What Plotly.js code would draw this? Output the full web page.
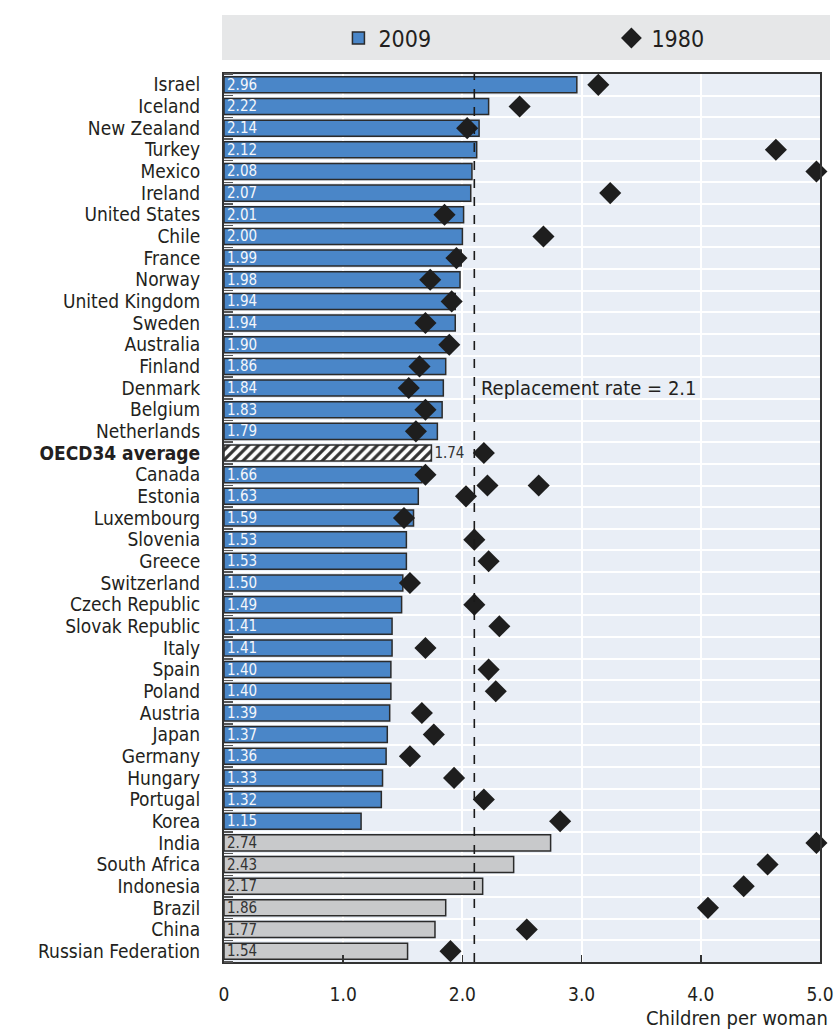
<!DOCTYPE html>
<html>
<head>
<meta charset="utf-8">
<script src="https://cdn.plot.ly/plotly-3.0.1.min.js"></script>
<style>
  html, body { margin: 0; padding: 0; background: #ffffff; }
  #chart { width: 835px; height: 1030px; }
</style>
</head>
<body>
<div id="chart"></div>
<script>
// ---- data ----
const oecdCountries = ["Israel","Iceland","New Zealand","Turkey","Mexico","Ireland","United States","Chile","France","Norway","United Kingdom","Sweden","Australia","Finland","Denmark","Belgium","Netherlands"];
const oecdCountries2 = ["Canada","Estonia","Luxembourg","Slovenia","Greece","Switzerland","Czech Republic","Slovak Republic","Italy","Spain","Poland","Austria","Japan","Germany","Hungary","Portugal","Korea"];
const averageLabel = "OECD34 average";
const partnerCountries = ["India","South Africa","Indonesia","Brazil","China","Russian Federation"];

const tfr2009_oecd1 = [2.96,2.22,2.14,2.12,2.08,2.07,2.01,2.00,1.99,1.98,1.94,1.94,1.90,1.86,1.84,1.83,1.79];
const tfr2009_avg = [1.74];
const tfr2009_oecd2 = [1.66,1.63,1.59,1.53,1.53,1.50,1.49,1.41,1.41,1.40,1.40,1.39,1.37,1.36,1.33,1.32,1.15];
const tfr2009_partners = [2.74,2.43,2.17,1.86,1.77,1.54];

const tfr1980_oecd1 = [3.14,2.48,2.04,4.63,4.97,3.24,1.85,2.68,1.95,1.73,1.91,1.69,1.89,1.64,1.55,1.69,1.61];
const tfr1980_avg = [2.18];
const tfr1980_oecd2 = [1.69,2.03,1.51,2.10,2.22,1.56,2.10,2.31,1.69,2.22,2.28,1.66,1.76,1.56,1.93,2.18,2.82];
const tfr1980_partners = [4.97,4.56,4.36,4.06,2.54,1.90];
// two extra 1980 markers drawn between the Canada and Estonia rows in the source
const tfr1980_extra = [2.21,2.64];

const replacementRate = 2.1;
const xTickVals = [0,1,2,3,4,5];
const xTickText = ["0","1.0","2.0","3.0","4.0","5.0"];

// ---- build ----
const categories = [].concat(oecdCountries, [averageLabel], oecdCountries2, partnerCountries);
const idx = name => categories.indexOf(name);
const yOecd1 = oecdCountries.map(idx);
const yAvg = [idx(averageLabel)];
const yOecd2 = oecdCountries2.map(idx);
const yPartners = partnerCountries.map(idx);
const yExtra = tfr1980_extra.map(() => (idx("Canada") + idx("Estonia")) / 2);

const FONT = "'DejaVu Sans Condensed', 'Liberation Sans Narrow', 'Arial Narrow', sans-serif";
const BLUE = "#4a86c8";
const GREY = "#c8c9cb";
const EDGE = "#2b2b2b";
const BARW = 0.74;

const blueX = tfr2009_oecd1.concat(tfr2009_oecd2);
const blueY = yOecd1.concat(yOecd2);

const traces = [
  {
    type: "bar", orientation: "h", name: "2009",
    x: blueX, y: blueY, width: BARW,
    marker: { color: BLUE, line: { color: EDGE, width: 1.5 } },
    texttemplate: "%{x:.2f}", textposition: "inside", insidetextanchor: "start",
    constraintext: "none",
    insidetextfont: { family: FONT, size: 15, color: "#f4f6fb" },
    showlegend: true, legend: "legend"
  },
  {
    type: "bar", orientation: "h", name: averageLabel,
    x: tfr2009_avg, y: yAvg, width: BARW,
    marker: { color: "#ffffff", line: { color: EDGE, width: 1.5 },
              pattern: { shape: "/", fgcolor: "#333333", bgcolor: "#ffffff", size: 7, solidity: 0.45 } },
    texttemplate: "%{x:.2f}", textposition: "outside", constraintext: "none",
    outsidetextfont: { family: FONT, size: 15, color: "#333333" },
    cliponaxis: false, showlegend: false
  },
  {
    type: "bar", orientation: "h", name: "Partners 2009",
    x: tfr2009_partners, y: yPartners, width: BARW,
    marker: { color: GREY, line: { color: EDGE, width: 1.5 } },
    texttemplate: "%{x:.2f}", textposition: "inside", insidetextanchor: "start",
    constraintext: "none",
    insidetextfont: { family: FONT, size: 15, color: "#333333" },
    showlegend: false
  },
  {
    type: "scatter", mode: "markers", name: "1980",
    x: tfr1980_oecd1.concat(tfr1980_avg, tfr1980_oecd2, tfr1980_partners, tfr1980_extra),
    y: yOecd1.concat(yAvg, yOecd2, yPartners, yExtra),
    marker: { symbol: "diamond", size: 17, color: "#1e1e1e" },
    cliponaxis: false, showlegend: true, legend: "legend2"
  }
];

const legendBase = {
  orientation: "h", xanchor: "left", y: 1.0405, yanchor: "middle",
  bgcolor: "rgba(0,0,0,0)", font: { family: FONT, size: 23, color: "#231f20" },
  itemclick: false, itemdoubleclick: false
};

const layout = {
  width: 835, height: 1030,
  margin: { l: 224, r: 15, t: 74, b: 68, autoexpand: false },
  paper_bgcolor: "#ffffff",
  plot_bgcolor: "#e9eef6",
  font: { family: FONT, color: "#231f20" },
  barmode: "overlay",
  bargap: 0,
  xaxis: {
    range: [0, 5], tickmode: "array", tickvals: xTickVals, ticktext: xTickText,
    ticks: "inside", ticklen: 7, tickcolor: "#333", tickwidth: 1.5,
    showgrid: true, gridcolor: "#ffffff", gridwidth: 2,
    zeroline: false,
    showline: true, mirror: true, linecolor: "#333333", linewidth: 2,
    tickfont: { family: FONT, size: 19, color: "#231f20" },
    ticklabelstandoff: 14, fixedrange: true, automargin: false
  },
  yaxis: {
    range: [categories.length - 0.5, -0.5],
    tickmode: "array", tickvals: categories.map((c, i) => i),
    ticktext: categories.map(c => c === averageLabel ? "<b>" + c + "</b>" : c),
    ticks: "", showgrid: false, zeroline: false,
    showline: true, mirror: true, linecolor: "#333333", linewidth: 2,
    tickfont: { family: FONT, size: 19, color: "#231f20" },
    ticklabelstandoff: 18,
    minor: { tickmode: "linear", tick0: 0.5, dtick: 1, ticks: "inside", ticklen: 9,
             tickcolor: "#555555", tickwidth: 1.5, showgrid: true, gridcolor: "#ffffff", gridwidth: 2 },
    fixedrange: true, automargin: false
  },
  shapes: [
    { type: "rect", xref: "paper", yref: "paper", x0: -0.0034, x1: 1.0168, y0: 1.0158, y1: 1.0664,
      fillcolor: "#e6e7e8", line: { width: 0 }, layer: "below" },
    { type: "line", xref: "x", yref: "paper", x0: replacementRate, x1: replacementRate, y0: 0, y1: 1,
      line: { color: "#1a1a1a", width: 1.6, dash: "dash" }, layer: "above" }
  ],
  annotations: [
    { xref: "x", yref: "y", x: replacementRate, y: idx("Denmark"), xanchor: "left", yanchor: "middle",
      xshift: 5, text: "Replacement rate = " + replacementRate, showarrow: false,
      font: { family: FONT, size: 20, color: "#231f20" } },
    { xref: "paper", yref: "paper", x: 1.017, y: -0.063, xanchor: "right", yanchor: "middle",
      text: "Children per woman", showarrow: false,
      font: { family: FONT, size: 20, color: "#231f20" } }
  ],
  legend: Object.assign({}, legendBase, { x: 0.192 }),
  legend2: Object.assign({}, legendBase, { x: 0.65 }),
  hovermode: false
};

Plotly.newPlot("chart", traces, layout, { staticPlot: true, displayModeBar: false });
</script>
</body>
</html>
